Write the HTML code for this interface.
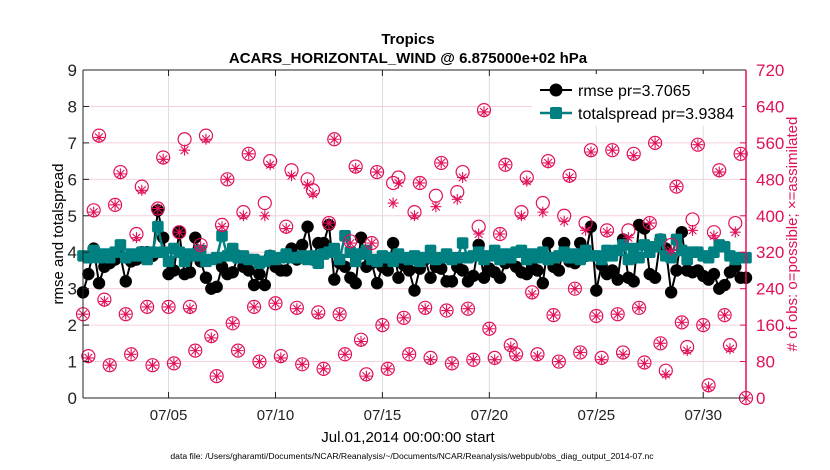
<!DOCTYPE html>
<html><head><meta charset="utf-8"><style>
body{margin:0;background:#fff;}
svg{display:block;font-family:"Liberation Sans",sans-serif;}
</style></head><body>
<svg id="chart" width="830" height="470" viewBox="0 0 830 470" xmlns="http://www.w3.org/2000/svg">
<text x="408" y="44" text-anchor="middle" font-size="15" font-weight="bold">Tropics</text>
<text x="408" y="63" text-anchor="middle" font-size="15" font-weight="bold">ACARS_HORIZONTAL_WIND @ 6.875000e+02 hPa</text>
<g id="grid"></g>
<g id="series"></g>
<g id="axes"></g>
<text transform="translate(63,234) rotate(-90)" text-anchor="middle" font-size="15">rmse and totalspread</text>
<text transform="translate(797,234) rotate(-90)" text-anchor="middle" font-size="15" fill="#e0105a"># of obs: o=possible; ×=assimilated</text>
<text x="408" y="442" text-anchor="middle" font-size="15">Jul.01,2014 00:00:00 start</text>
<text x="412" y="459" text-anchor="middle" font-size="8.6">data file: /Users/gharamti/Documents/NCAR/Reanalysis/~/Documents/NCAR/Reanalysis/webpub/obs_diag_output_2014-07.nc</text>
<g id="legend">
<rect x="532" y="74" width="210" height="52" fill="#fff"/>
<g>
<line x1="540" y1="90" x2="572" y2="90" stroke="#000" stroke-width="2"/><circle cx="556" cy="90" r="6.5" fill="#000"/>
<text x="578" y="96" font-size="16">rmse pr=3.7065</text></g>
<g>
<line x1="540" y1="113" x2="572" y2="113" stroke="#008080" stroke-width="2.5"/><rect x="550" y="107" width="12" height="12" rx="2" fill="#008080"/>
<text x="578" y="119" font-size="16">totalspread pr=3.9384</text></g>
</g>
</svg>
<script>
const rmse=[2.9,3.4,4.1,3.15,3.6,3.7,3.8,3.9,3.2,3.75,3.8,4.0,4.0,3.9,5.15,4.4,3.4,3.5,4.55,3.4,3.45,4.4,3.75,3.3,3.0,3.05,3.6,3.4,3.45,3.9,3.6,3.5,3.1,3.4,3.1,3.9,3.6,3.5,3.5,4.1,3.8,4.2,4.7,3.8,4.25,4.25,4.75,3.25,3.7,3.6,3.3,3.15,4.4,3.6,3.7,3.15,3.6,3.5,4.25,3.3,3.65,3.5,2.95,3.55,3.8,3.3,3.6,3.55,3.2,3.2,3.6,3.5,3.2,3.35,4.2,3.3,3.55,3.45,3.3,3.7,3.9,3.6,3.45,3.4,3.6,3.5,3.15,4.25,3.6,3.5,4.25,3.75,3.7,4.25,3.9,4.7,2.95,3.65,3.4,3.5,3.25,4.35,3.3,3.2,4.75,4.65,3.4,3.3,4.35,4.1,2.9,3.5,4.55,3.5,3.45,3.5,3.35,3.25,3.4,3.0,3.1,3.45,3.6,3.3,3.3];
const spread=[3.9,3.85,4.05,3.85,3.95,3.85,4.0,4.2,3.85,3.95,3.9,4.0,3.8,4.0,4.7,4.0,3.75,4.1,4.0,3.75,3.95,3.9,4.05,3.75,3.8,3.85,4.45,3.9,4.1,3.85,3.9,3.8,3.8,3.7,3.75,3.9,3.8,3.85,3.95,3.85,3.85,3.9,3.8,3.9,3.7,3.95,4.0,4.1,3.8,4.45,4.0,3.75,3.95,4.05,3.8,3.75,3.9,3.85,3.75,3.95,3.85,3.8,3.9,3.75,3.85,4.05,3.8,3.85,3.95,3.8,3.85,4.25,3.85,3.9,4.0,3.8,3.9,4.05,3.8,3.95,3.85,4.0,4.05,3.8,3.95,3.85,4.0,3.8,3.85,3.9,4.0,3.85,3.95,3.8,4.05,3.9,3.9,3.8,4.05,3.9,4.05,4.2,3.8,4.1,3.85,4.2,4.0,4.15,4.35,3.9,3.85,4.35,4.05,3.8,4.0,4.0,3.9,3.85,4.0,4.2,4.15,3.9,3.8,3.85,3.85];
const obsPossible=[184,92,412,576,216,72,424,496,184,96,360,464,200,72,416,528,200,76,364,568,200,104,336,576,136,48,380,480,164,104,408,536,200,80,428,520,208,92,376,500,198,74,480,456,188,64,384,568,184,96,344,508,128,52,340,496,160,64,472,484,176,96,408,472,198,88,444,516,192,76,452,496,196,84,376,632,152,88,360,512,116,96,408,484,232,96,428,520,182,80,400,488,240,100,384,544,180,88,368,544,184,100,368,536,198,78,384,560,120,60,336,464,166,112,392,556,160,28,364,500,182,116,384,536,0];
const obsAssim=[184,88,408,572,212,72,424,492,184,96,352,456,200,72,416,524,200,76,364,544,196,104,332,568,132,48,376,480,164,104,400,536,200,80,400,512,208,88,372,488,196,74,468,448,184,64,384,568,184,96,340,504,124,48,340,496,160,64,428,472,176,96,400,472,196,84,420,516,192,76,436,484,196,84,360,628,152,84,360,512,112,92,400,476,228,92,408,516,182,80,388,484,240,100,368,540,180,84,364,544,184,96,352,532,198,76,384,560,120,52,324,464,166,104,368,556,160,24,356,496,182,108,364,536,0];
const leftTicks=[0,1,2,3,4,5,6,7,8,9];
const rightTicks=[0,80,160,240,320,400,480,560,640,720];
const xTickDays=[4,9,14,19,24,29];
const xTickLabels=["07/05","07/10","07/15","07/20","07/25","07/30"];
const stepsPerDay=4;

const X0=83,X1=746,Y0=398,Y1=70;
const dayMin=0, dayMax=31.0;
function xs(d){return X0+(d-dayMin)/(dayMax-dayMin)*(X1-X0);}
function yl(v){return Y0-(v-0)/(9-0)*(Y0-Y1);}
function yr(v){return Y0-(v-0)/(720-0)*(Y0-Y1);}
const NS="http://www.w3.org/2000/svg";
function mk(tag,attrs,parent){const e=document.createElementNS(NS,tag);for(const k in attrs)e.setAttribute(k,attrs[k]);parent.appendChild(e);return e;}
const grid=document.getElementById('grid'),series=document.getElementById('series'),axes=document.getElementById('axes');
const PINK="#e0105a";
leftTicks.forEach(t=>{
  if(t>0&&t<9){const g=mk('line',{x1:X0,x2:X1,y1:yl(t),y2:yl(t),stroke:'#f5d0dc','stroke-width':1},grid);
  
  }
  const tx=mk('text',{x:X0-6,y:yl(t)+6,'text-anchor':'end','font-size':17,fill:'#222'},axes);tx.textContent=t;
  
  
  mk('line',{x1:X0,x2:X0+6,y1:yl(t),y2:yl(t),stroke:'#222'},axes);
});
rightTicks.forEach(t=>{
  const tx=mk('text',{x:X1+10,y:yr(t)+6,'font-size':17,fill:PINK},axes);tx.textContent=t;
  
  
  mk('line',{x1:X1-6,x2:X1,y1:yr(t),y2:yr(t),stroke:PINK},axes);
});
xTickDays.forEach((d,k)=>{
  const g=mk('line',{x1:xs(d),x2:xs(d),y1:Y1,y2:Y0,stroke:'#dcdcdc','stroke-width':1},grid);
  
  
  mk('line',{x1:xs(d),x2:xs(d),y1:Y0,y2:Y0-6,stroke:'#222'},axes);
  mk('line',{x1:xs(d),x2:xs(d),y1:Y1,y2:Y1+6,stroke:'#222'},axes);
  const tx=mk('text',{x:xs(d),y:Y0+22,'text-anchor':'middle','font-size':15,fill:'#222'},axes);tx.textContent=xTickLabels[k];
  
  
});
mk('line',{x1:X0,x2:X1,y1:Y0,y2:Y0,stroke:'#222'},axes);
mk('line',{x1:X0,x2:X1,y1:Y1,y2:Y1,stroke:'#222'},axes);
mk('line',{x1:X0,x2:X0,y1:Y1,y2:Y0,stroke:'#222'},axes);
mk('line',{x1:X1,x2:X1,y1:Y1,y2:Y0,stroke:PINK,'stroke-width':1.5},axes);

function px(i){return xs(i/stepsPerDay);}
let p=rmse.map((v,i)=>px(i).toFixed(1)+','+yl(v).toFixed(1)).join(' ');
const rl=mk('polyline',{points:p,fill:'none',stroke:'#000','stroke-width':2},series);


rmse.forEach((v,i)=>{const c=mk('circle',{cx:px(i),cy:yl(v),r:6.2,fill:'#000'},series);
  
  });
p=spread.map((v,i)=>px(i).toFixed(1)+','+yl(v).toFixed(1)).join(' ');
const sl=mk('polyline',{points:p,fill:'none',stroke:'#008080','stroke-width':2.5},series);


spread.forEach((v,i)=>{const r=mk('rect',{x:px(i)-5.8,y:yl(v)-5.8,width:11.6,height:11.6,rx:2,fill:'#008080'},series);
  
  });
obsPossible.forEach((v,i)=>{const c=mk('circle',{cx:px(i),cy:yr(v),r:6.5,fill:'none',stroke:PINK,'stroke-width':1.2},series);
  
  });
obsAssim.forEach((v,i)=>{const x=px(i),y=yr(v),s=5.5,d=3.9;
  const g=mk('path',{d:`M${x-s},${y}H${x+s}M${x},${y-s}V${y+s}M${x-d},${y-d}L${x+d},${y+d}M${x-d},${y+d}L${x+d},${y-d}`,stroke:PINK,'stroke-width':1.1,fill:'none'},series);
  
  });
</script>
</body></html>
